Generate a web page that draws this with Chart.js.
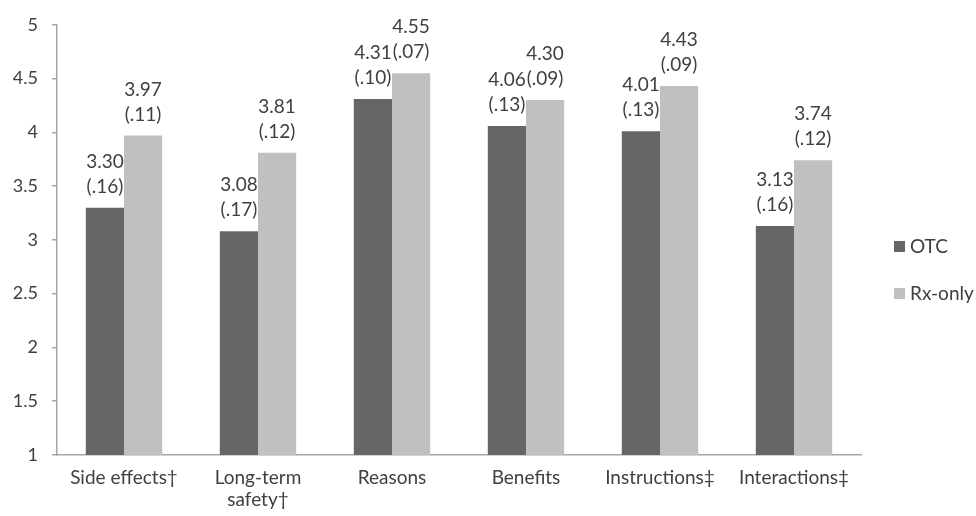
<!DOCTYPE html>
<html>
<head>
<meta charset="utf-8">
<script src="https://cdn.jsdelivr.net/npm/chart.js@4.4.0/dist/chart.umd.min.js"></script>
<style>
  body { margin: 0; background: #fff; }
  #wrap { width: 976px; height: 516px; }
</style>
</head>
<body>
<div id="wrap"><canvas id="myChart" width="976" height="516"></canvas></div>
<script>
let categories = ['Side effects†', ['Long-term', 'safety†'], 'Reasons', 'Benefits', 'Instructions‡', 'Interactions‡'];
let otcMeans = [3.30, 3.08, 4.31, 4.06, 4.01, 3.13];
let otcSE = ['.16', '.17', '.10', '.13', '.13', '.16'];
let rxMeans = [3.97, 3.81, 4.55, 4.30, 4.43, 3.74];
let rxSE = ['.11', '.12', '.07', '.09', '.09', '.12'];
let yTicks = [1, 1.5, 2, 2.5, 3, 3.5, 4, 4.5, 5];

const FONT = 'Lato, "Open Sans", sans-serif';
const TEXT = '#404040';
const AXIS = '#a6a6a6';

// value + (se) above each bar, two lines
const barLabels = {
    id: 'barLabels',
    afterDatasetsDraw(chart) {
        const ctx = chart.ctx;
        ctx.save();
        ctx.font = '19px ' + FONT;
        ctx.fillStyle = TEXT;
        ctx.textAlign = 'center';
        ctx.textBaseline = 'alphabetic';
        chart.data.datasets.forEach(function(ds, di) {
            chart.getDatasetMeta(di).data.forEach(function(bar, i) {
                let val = ds.data[i].toFixed(2);
                let se = '(' + ds.se[i] + ')';
                ctx.fillText(se, bar.x, bar.y - 15);
                ctx.fillText(val, bar.x, bar.y - 40);
            });
        });
        ctx.restore();
    }
};

// legend on the right, like the original
const sideLegend = {
    id: 'sideLegend',
    afterDraw(chart) {
        const ctx = chart.ctx;
        ctx.save();
        ctx.font = '19px ' + FONT;
        ctx.textBaseline = 'middle';
        ctx.textAlign = 'left';
        let ys = [246, 293];
        chart.data.datasets.forEach(function(ds, di) {
            ctx.fillStyle = ds.backgroundColor;
            ctx.fillRect(894, ys[di] - 5, 11, 11);
            ctx.fillStyle = TEXT;
            ctx.fillText(ds.label, 910, ys[di] + 1);
        });
        ctx.restore();
    }
};

var ctx = document.getElementById('myChart').getContext('2d');
var myChart = new Chart(ctx, {
    type: 'bar',
    data: {
        labels: categories,
        datasets: [{
            label: 'OTC',
            data: otcMeans,
            se: otcSE,
            backgroundColor: '#666666'
        },
        {
            label: 'Rx-only',
            data: rxMeans,
            se: rxSE,
            backgroundColor: '#c0c0c0'
        }]
    },
    options: {
        responsive: false,
        animation: false,
        layout: { padding: { top: 7, right: 115, left: 0, bottom: 0 } },
        datasets: { bar: { categoryPercentage: 0.57, barPercentage: 1 } },
        plugins: {
            legend: { display: false },
            tooltip: { enabled: false }
        },
        scales: {
            x: {
                grid: { display: false, drawTicks: false },
                border: { color: AXIS, width: 1.5 },
                ticks: { color: TEXT, font: { family: FONT, size: 19, lineHeight: 1.15 }, padding: 12, maxRotation: 0, autoSkip: false },
                afterFit(scale) { scale.height = 61; }
            },
            y: {
                min: 1,
                max: 5,
                afterBuildTicks(scale) { scale.ticks = yTicks.map(v => ({ value: v })); },
                grid: { drawOnChartArea: false, drawTicks: true, tickLength: 5, color: AXIS, lineWidth: 1.5 },
                border: { color: AXIS, width: 1.5 },
                ticks: { color: TEXT, font: { family: FONT, size: 18 }, padding: 14, callback: v => String(v) },
                afterFit(scale) { scale.width = 57; }
            }
        }
    },
    plugins: [barLabels, sideLegend]
});
</script>
</body>
</html>
